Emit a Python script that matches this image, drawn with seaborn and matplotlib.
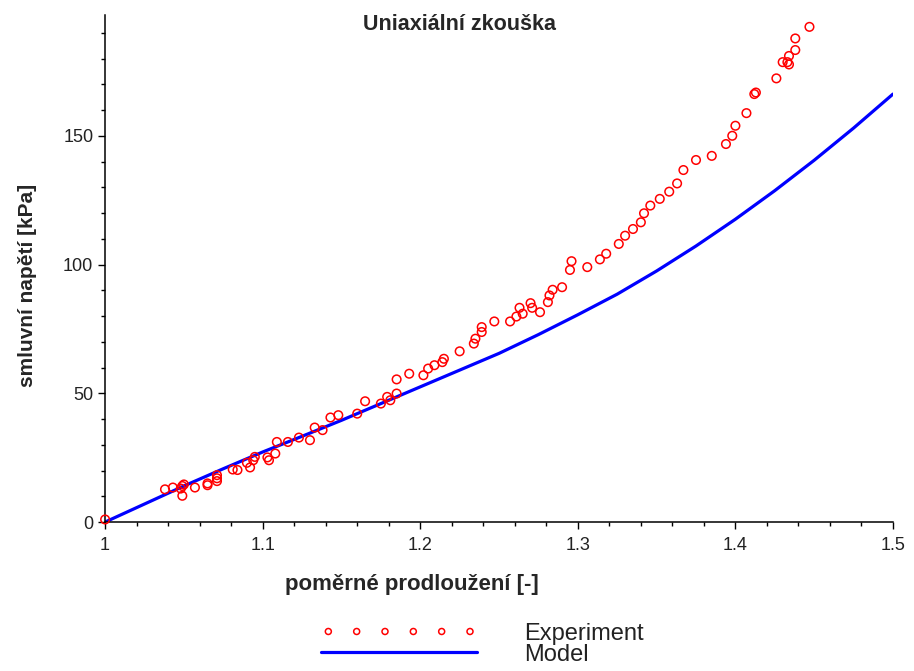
import matplotlib
matplotlib.use("Agg")
import matplotlib.pyplot as plt
from matplotlib.ticker import MultipleLocator
import numpy as np
import pandas as pd
import seaborn as sns

# experiment: stretch ratio vs. engineering stress [kPa]
exp_stretch = [
    1.000, 1.038, 1.043, 1.048, 1.049, 1.049, 1.050, 1.057, 1.065, 1.065,
    1.071, 1.071, 1.071, 1.081, 1.084, 1.090, 1.092, 1.094, 1.095, 1.103,
    1.104, 1.108, 1.109, 1.116, 1.123, 1.130, 1.133, 1.138, 1.143, 1.148,
    1.160, 1.165, 1.175, 1.179, 1.181, 1.185, 1.185, 1.193, 1.202, 1.205,
    1.209, 1.214, 1.215, 1.225, 1.234, 1.235, 1.239, 1.239, 1.247, 1.257,
    1.261, 1.263, 1.265, 1.270, 1.271, 1.276, 1.281, 1.282, 1.284, 1.290,
    1.295, 1.296, 1.306, 1.314, 1.318, 1.326, 1.330, 1.335, 1.340, 1.342,
    1.346, 1.352, 1.358, 1.363, 1.367, 1.375, 1.385, 1.394, 1.398, 1.400,
    1.407, 1.412, 1.413, 1.426, 1.430, 1.433, 1.434, 1.434, 1.438, 1.438,
    1.447,
]
exp_stress = [
    1.0, 12.7, 13.4, 13.0, 14.0, 10.2, 14.6, 13.4, 14.3, 15.0,
    15.9, 17.0, 18.2, 20.4, 20.2, 23.0, 21.2, 24.0, 25.3, 25.1,
    24.0, 26.6, 31.1, 31.1, 32.8, 31.8, 36.7, 35.7, 40.6, 41.5,
    42.1, 46.9, 46.0, 48.6, 47.3, 49.9, 55.4, 57.6, 57.0, 59.6,
    60.9, 62.1, 63.4, 66.3, 69.3, 71.2, 73.8, 75.7, 77.9, 77.9,
    79.8, 83.2, 80.9, 85.0, 83.2, 81.5, 85.4, 88.0, 90.2, 91.2,
    97.9, 101.3, 99.0, 102.0, 104.2, 108.0, 111.2, 113.8, 116.4, 119.9,
    122.9, 125.5, 128.3, 131.5, 136.7, 140.6, 142.2, 146.8, 150.0, 153.9,
    158.8, 166.2, 166.8, 172.3, 178.6, 178.6, 177.7, 181.0, 183.3, 187.8,
    192.3,
]

# model curve
model_stretch = [
    1.000, 1.025, 1.050, 1.075, 1.100, 1.125, 1.150, 1.175, 1.200, 1.225,
    1.250, 1.275, 1.300, 1.325, 1.350, 1.375, 1.400, 1.425, 1.450, 1.475,
    1.500,
]
model_stress = [
    0.0, 7.0, 14.0, 20.7, 27.2, 33.3, 39.5, 46.0, 52.5, 59.0,
    65.5, 72.8, 80.5, 88.5, 97.5, 107.2, 117.6, 128.7, 140.5, 153.0,
    166.2,
]

x_ticks = [1.0, 1.1, 1.2, 1.3, 1.4, 1.5]
x_ticklabels = ["1", "1.1", "1.2", "1.3", "1.4", "1.5"]
y_ticks = [0, 50, 100, 150]

sns.set_style("ticks")
plt.rcParams["font.family"] = ["Liberation Sans", "DejaVu Sans"]

df_exp = pd.DataFrame({"x": exp_stretch, "y": exp_stress})
df_model = pd.DataFrame({"x": model_stretch, "y": model_stress})

fig = plt.figure(figsize=(9.14, 6.71), dpi=100)
ax = fig.add_axes([0.115, 0.222, 0.862, 0.756])

sns.lineplot(data=df_model, x="x", y="y", ax=ax, color="#0000ff",
             linewidth=2.3, estimator=None, sort=False, label="Model",
             zorder=2, legend=False)
sns.scatterplot(data=df_exp, x="x", y="y", ax=ax, marker="o", s=38,
                facecolors="none", edgecolor="#ff0000", linewidth=1.1,
                label="Experiment", zorder=3, clip_on=False, legend=False)

ax.set_xlim(1.0, 1.5)
ax.set_ylim(0, 197)
ax.set_xticks(x_ticks)
ax.set_xticklabels(x_ticklabels)
ax.set_yticks(y_ticks)
ax.xaxis.set_minor_locator(MultipleLocator(0.02))
ax.yaxis.set_minor_locator(MultipleLocator(10))
ax.tick_params(which="major", length=5, width=1, color="black",
               labelsize=13, labelcolor="#222222")
ax.tick_params(which="minor", length=3, width=1, color="black")
ax.tick_params(axis="x", pad=6)

sns.despine(ax=ax)
for side in ("left", "bottom"):
    ax.spines[side].set_color("black")
    ax.spines[side].set_linewidth(1.1)

ax.set_xlabel("poměrné prodloužení [-]", fontsize=16, fontweight="bold")
ax.set_ylabel("smluvní napětí [kPa]", fontsize=15, fontweight="bold")
ax.xaxis.set_label_coords(0.389, -0.124)
ax.xaxis.label.set_va("center")
ax.yaxis.set_label_coords(-0.098, 0.466)
ax.yaxis.label.set_va("center")

ax.text(0.45, 0.98, "Uniaxiální zkouška", transform=ax.transAxes,
        ha="center", va="center", fontsize=15.5, fontweight="bold")

handles, labels = ax.get_legend_handles_labels()
order = [labels.index("Experiment"), labels.index("Model")]
fig.legend([handles[i] for i in order], [labels[i] for i in order],
           loc="center", bbox_to_anchor=(0.528, 0.04), frameon=False,
           fontsize=17, handlelength=6.6, handletextpad=2.0,
           labelspacing=-0.05, scatterpoints=6, scatteryoffsets=[0.5],
           markerscale=0.7, labelcolor="#222222")

fig.savefig("out.png", dpi=100, facecolor="white")
